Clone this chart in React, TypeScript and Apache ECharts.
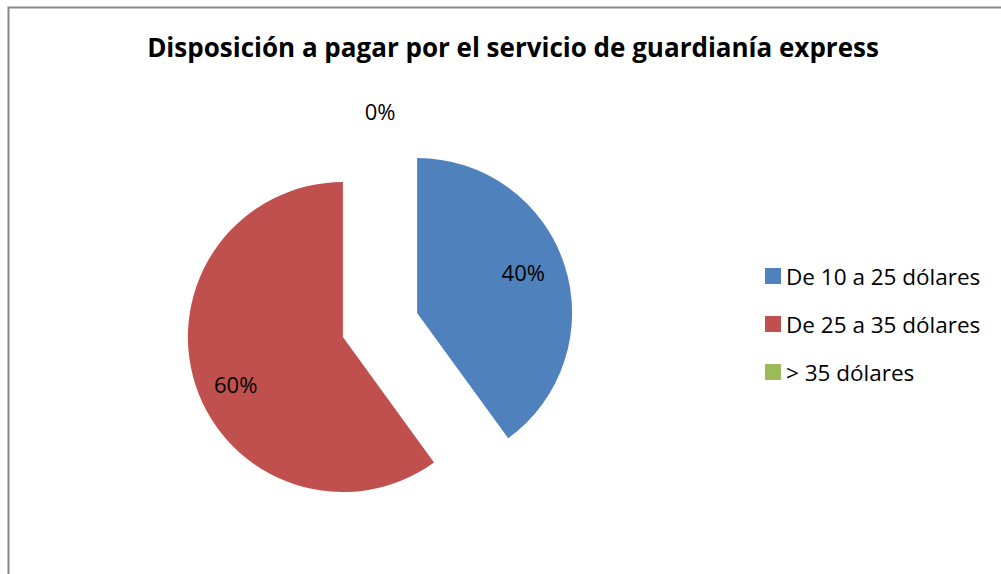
import React, { useEffect, useRef } from "react";
import * as echarts from "echarts";

const TITLE = "Disposición a pagar por el servicio de guardianía express";
const categories = ["De 10 a 25 dólares", "De 25 a 35 dólares", "> 35 dólares"];
const values = [40, 60, 0];
const colors = ["#4F81BD", "#C0504D", "#9BBB59"];
const labelNudge = [[-5, -5], [4, 11], [0, 0]];

const FONT = "'Open Sans', Lato, sans-serif";

export default function App() {
  const ref = useRef<HTMLDivElement>(null);
  useEffect(() => {
    if (!ref.current) return;
    const chart = echarts.init(ref.current, undefined, { renderer: "svg" });
    const R = 155;
    const center = [380, 325];
    const offset = 39;
    const baseData = categories.map((name, i) => ({
      name,
      value: values[i],
      selected: true,
      itemStyle: { color: colors[i] },
    }));
    chart.setOption({
      animation: false,
      backgroundColor: "#ffffff",
      textStyle: { fontFamily: FONT },
      graphic: [
        {
          type: "rect",
          shape: { x: 8.5, y: 7.5, width: 1100, height: 700 },
          style: { fill: "none", stroke: "#888888", lineWidth: 2 },
          silent: true,
        },
        {
          type: "text",
          x: 513,
          y: 47,
          style: {
            text: TITLE,
            fontFamily: FONT,
            fontWeight: "bold",
            fontSize: 26,
            fill: "#000000",
            align: "center",
            verticalAlign: "middle",
          },
          silent: true,
        },
      ],
      legend: {
        orient: "vertical",
        left: 765,
        top: 264,
        padding: 0,
        itemWidth: 16,
        itemHeight: 16,
        itemGap: 24,
        icon: "rect",
        selectedMode: false,
        data: categories,
        textStyle: { fontFamily: FONT, fontSize: 22.5, color: "#000000", lineHeight: 24 },
      },
      series: [
        {
          type: "pie",
          center,
          radius: [0, R],
          clockwise: true,
          startAngle: 90,
          selectedMode: "multiple",
          selectedOffset: offset,
          label: { show: false },
          labelLine: { show: false },
          emphasis: { disabled: true },
          silent: true,
          data: baseData,
        },
        {
          type: "pie",
          center,
          radius: [R * 0.47, R],
          clockwise: true,
          startAngle: 90,
          selectedMode: "multiple",
          selectedOffset: offset,
          itemStyle: { color: "transparent" },
          label: {
            show: true,
            position: "inside",
            formatter: (p: any) => (p.value > 0 ? p.percent.toFixed(0) + "%" : ""),
            fontFamily: FONT,
            fontSize: 22,
            color: "#000000",
          },
          labelLayout: (p: any) => ({
            dx: labelNudge[p.dataIndex][0],
            dy: labelNudge[p.dataIndex][1],
          }),
          labelLine: { show: false },
          emphasis: { disabled: true },
          silent: true,
          legendHoverLink: false,
          data: baseData.map((d) => ({ ...d, itemStyle: { color: "transparent" } })),
        },
        {
          type: "pie",
          center,
          radius: [199, 223],
          clockwise: true,
          startAngle: 90,
          itemStyle: { color: "transparent" },
          label: {
            show: true,
            position: "inside",
            formatter: (p: any) => (p.value === 0 ? p.percent.toFixed(0) + "%" : ""),
            fontFamily: FONT,
            fontSize: 22,
            color: "#000000",
          },
          labelLine: { show: false },
          emphasis: { disabled: true },
          silent: true,
          legendHoverLink: false,
          data: categories.map((name, i) => ({ name, value: values[i], itemStyle: { color: "transparent" } })),
        },
      ],
    });
    return () => chart.dispose();
  }, []);
  return (
    <div
      ref={ref}
      style={{ position: "absolute", left: 0, top: 0, width: 1001, height: 574 }}
    />
  );
}
